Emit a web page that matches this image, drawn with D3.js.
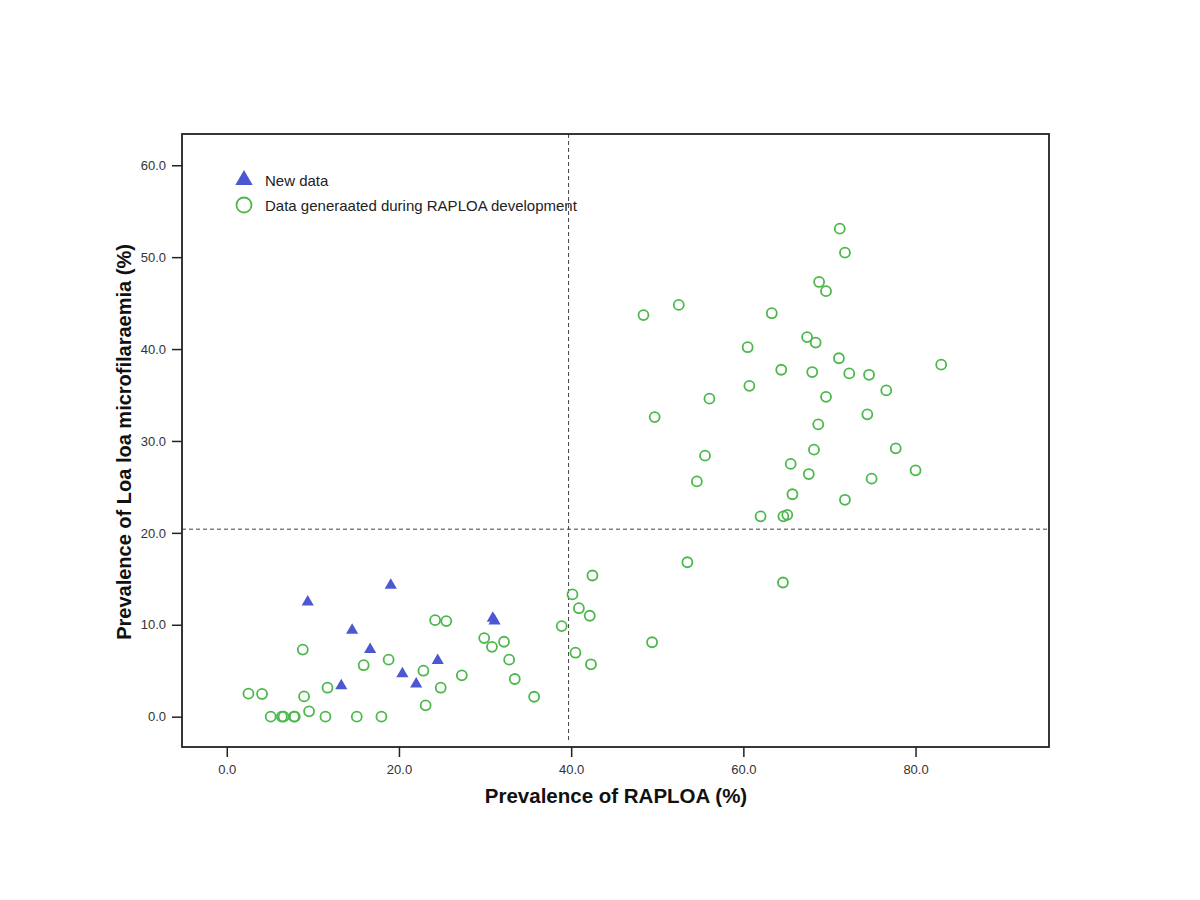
<!DOCTYPE html>
<html>
<head>
<meta charset="utf-8">
<script src="https://cdn.jsdelivr.net/npm/d3@7"></script>
<style>
  body { margin: 0; background: #fff; }
  svg { display: block; }
  text { font-family: "Liberation Sans", Arial, sans-serif; }
</style>
</head>
<body>
<svg id="chart" width="1200" height="900"></svg>
<script>
// New data (triangles): RAPLOA prevalence (%) and Loa loa mf prevalence (%)
const newX = [9.4, 19.05, 14.56, 16.65, 13.3, 20.4, 22.0, 24.5, 30.9, 31.1];
const newY = [12.47, 14.3, 9.4, 7.3, 3.37, 4.67, 3.55, 6.1, 10.7, 10.4];

// Data generated during RAPLOA development (circles)
const devX = [2.52, 4.1, 5.1, 6.4, 6.6, 7.8, 7.9, 8.83, 8.98, 9.56, 11.46, 11.7, 15.1, 15.9, 17.96, 18.8,
  22.84, 23.1, 24.2, 25.5, 24.85, 27.3, 29.9, 30.8, 32.2, 32.8, 33.45, 35.7, 38.9, 40.15, 40.9, 40.5,
  42.16, 42.47, 42.3, 49.4, 53.5, 64.6,
  71.2, 71.8, 68.8, 69.6, 52.5, 48.4, 63.3, 67.4, 68.4, 60.5, 71.1, 82.98, 64.4, 68.0, 72.3, 74.6, 60.7,
  76.6, 56.06, 69.6, 49.7, 74.4, 68.7, 68.2, 77.7, 55.55, 65.5, 67.6, 80.0, 74.9, 54.6, 65.7, 71.8,
  62.0, 64.65, 65.1];
const devY = [2.5, 2.47, 0, 0, 0, 0, 0, 7.3, 2.2, 0.58, 0, 3.15, 0, 5.6, 0, 6.2,
  5.0, 1.23, 10.5, 10.4, 3.15, 4.5, 8.55, 7.6, 8.15, 6.2, 4.1, 2.17, 9.86, 13.3, 11.8, 6.96,
  10.98, 15.36, 5.7, 8.1, 16.8, 14.6,
  53.1, 50.5, 47.3, 46.3, 44.8, 43.7, 43.9, 41.3, 40.7, 40.2, 39.0, 38.3, 37.75, 37.5, 37.35, 37.2, 36.0,
  35.5, 34.6, 34.8, 32.6, 32.9, 31.8, 29.05, 29.2, 28.4, 27.5, 26.4, 26.8, 25.9, 25.6, 24.2, 23.6,
  21.8, 21.8, 21.96];

const xTicks = [0, 20, 40, 60, 80];
const yTicks = [0, 10, 20, 30, 40, 50, 60];
const refX = 39.7;
const refY = 20.4;

const legendLabels = ["New data", "Data generaated during RAPLOA development"];

(function () {
const svg = d3.select("#chart");
const pL = 182, pR = 1049, pT = 134, pB = 747;

const x = d3.scaleLinear().domain([-5.2, 95.5]).range([pL, pR]);
const y = d3.scaleLinear().domain([-3.3, 63.4]).range([pB, pT]);

const blue = "#4c58d2";
const green = "#4cb84c";

// reference lines
svg.append("line")
  .attr("x1", x(refX)).attr("x2", x(refX))
  .attr("y1", pT).attr("y2", pB - 4)
  .attr("stroke", "#444").attr("stroke-width", 1).attr("stroke-dasharray", "4,3");
svg.append("line")
  .attr("x1", pL).attr("x2", pR)
  .attr("y1", y(refY)).attr("y2", y(refY))
  .attr("stroke", "#444").attr("stroke-width", 1).attr("stroke-dasharray", "4,3");

// axes
const xAxis = d3.axisBottom(x).tickValues(xTicks).tickFormat(d3.format(".1f")).tickSizeOuter(0).tickSize(10).tickPadding(8);
const yAxis = d3.axisLeft(y).tickValues(yTicks).tickFormat(d3.format(".1f")).tickSizeOuter(0).tickSize(10).tickPadding(6);

const gx = svg.append("g").attr("transform", `translate(0,${pB})`).call(xAxis);
const gy = svg.append("g").attr("transform", `translate(${pL},0)`).call(yAxis);
[gx, gy].forEach(g => {
  g.select(".domain").remove();
  g.selectAll(".tick line").attr("stroke", "#222").attr("stroke-width", 1.5);
  g.selectAll(".tick text").attr("fill", "#333").style("font-size", "13px")
    .style("font-family", "'Liberation Sans Narrow', 'Arial Narrow', 'Liberation Sans', Arial, sans-serif");
});

// frame
svg.append("rect")
  .attr("x", pL).attr("y", pT).attr("width", pR - pL).attr("height", pB - pT)
  .attr("fill", "none").attr("stroke", "#222").attr("stroke-width", 1.8);

// circles
svg.append("g").selectAll("circle")
  .data(devX.map((d, i) => [d, devY[i]]))
  .join("circle")
  .attr("cx", d => x(d[0])).attr("cy", d => y(d[1]))
  .attr("r", 5)
  .attr("fill", "none").attr("stroke", green).attr("stroke-width", 1.8);

// triangles
const tri = d3.symbol().type(d3.symbolTriangle).size(64);
svg.append("g").selectAll("path")
  .data(newX.map((d, i) => [d, newY[i]]))
  .join("path")
  .attr("d", tri)
  .attr("transform", d => `translate(${x(d[0])},${y(d[1])})`)
  .attr("fill", blue);

// axis titles
svg.append("text")
  .attr("x", 616).attr("y", 803)
  .attr("text-anchor", "middle")
  .style("font-size", "20.5px").style("font-weight", "bold").attr("fill", "#111")
  .text("Prevalence of RAPLOA (%)");
svg.append("text")
  .attr("transform", `translate(131,442) rotate(-90)`)
  .attr("text-anchor", "middle")
  .style("font-size", "20px").style("font-weight", "bold").attr("fill", "#111")
  .text("Prevalence of Loa loa microfilaraemia (%)");

// legend
const lg = svg.append("g");
lg.append("path").attr("d", d3.symbol().type(d3.symbolTriangle).size(130))
  .attr("transform", "translate(244,180)").attr("fill", blue);
lg.append("circle").attr("cx", 244).attr("cy", 205).attr("r", 7.5)
  .attr("fill", "none").attr("stroke", green).attr("stroke-width", 1.8);
lg.selectAll("text.lab").data(legendLabels).join("text")
  .attr("class", "lab")
  .attr("x", 265).attr("y", (d, i) => 186 + i * 25)
  .style("font-size", "15px").attr("fill", "#222")
  .text(d => d);
})();
</script>
</body>
</html>
